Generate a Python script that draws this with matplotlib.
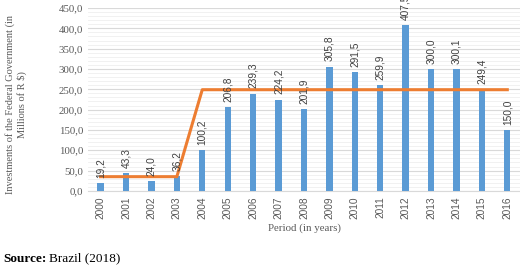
import numpy as np
import matplotlib.pyplot as plt
from matplotlib.ticker import MultipleLocator, FuncFormatter

plt.rcParams['font.family'] = ['Liberation Serif', 'DejaVu Serif']

years = [str(y) for y in range(2000, 2017)]
investment = [19.2, 43.3, 24.0, 36.2, 100.2, 206.8, 239.3, 224.2, 201.9,
              305.8, 291.5, 259.9, 407.5, 300.0, 300.1, 249.4, 150.0]
average_line = [35.0, 35.0, 35.0, 35.0, 249.0, 249.0, 249.0, 249.0, 249.0,
                249.0, 249.0, 249.0, 249.0, 249.0, 249.0, 249.0, 249.0]

fig = plt.figure(figsize=(5.2, 2.67), dpi=100)
ax = fig.add_axes([0.169, 0.285, 0.831, 0.685])

x = np.arange(len(years))
ax.bar(x, investment, width=0.25, color="#5B9BD5", zorder=3)
ax.plot(x, average_line, color="#ED7D31", linewidth=2.2, zorder=4)

# value labels above each bar (the top one runs off the figure like the original)
for xi, v in zip(x, investment):
    ax.text(xi, v + 13, f"{v:.1f}".replace(".", ","), rotation=90,
            ha="center", va="bottom", fontsize=7.3, color="#404040",
            family=["Liberation Sans", "DejaVu Sans"], zorder=5)

ax.set_xlim(-0.5, len(years) - 0.5)
ax.set_ylim(0, 450)
ax.yaxis.set_major_locator(MultipleLocator(50))
ax.yaxis.set_minor_locator(MultipleLocator(10))
ax.yaxis.set_major_formatter(FuncFormatter(lambda v, p: f"{v:.1f}".replace(".", ",")))
ax.grid(axis="y", which="major", color="#d9d9d9", linewidth=0.8, zorder=0)
ax.grid(axis="y", which="minor", color="#efefef", linewidth=0.6, zorder=0)

ax.set_xticks(x)
ax.set_xticklabels(years, rotation=90, fontsize=7.3, color="#595959",
                   family=["Liberation Sans", "DejaVu Sans"])
ax.tick_params(axis="y", labelsize=7.8, labelcolor="#595959", length=0, which="both")
ax.tick_params(axis="x", length=0, pad=4)

for s in ["top", "right", "left"]:
    ax.spines[s].set_visible(False)
ax.spines["bottom"].set_color("#d9d9d9")

ax.set_xlabel("Period (in years)", fontsize=7.8, color="#595959", labelpad=3)
ax.set_ylabel("Investments of the Federal Government (in\nMillions of R $)",
              fontsize=7.5, color="#595959", linespacing=1.2)
ax.yaxis.set_label_coords(-0.141, 0.47)

fig.text(0.006, 0.02, "Source:", fontsize=9.5, fontweight="bold", va="baseline")
fig.text(0.094, 0.02, "Brazil (2018)", fontsize=9.5, va="baseline")

fig.savefig("out.png", dpi=100)
